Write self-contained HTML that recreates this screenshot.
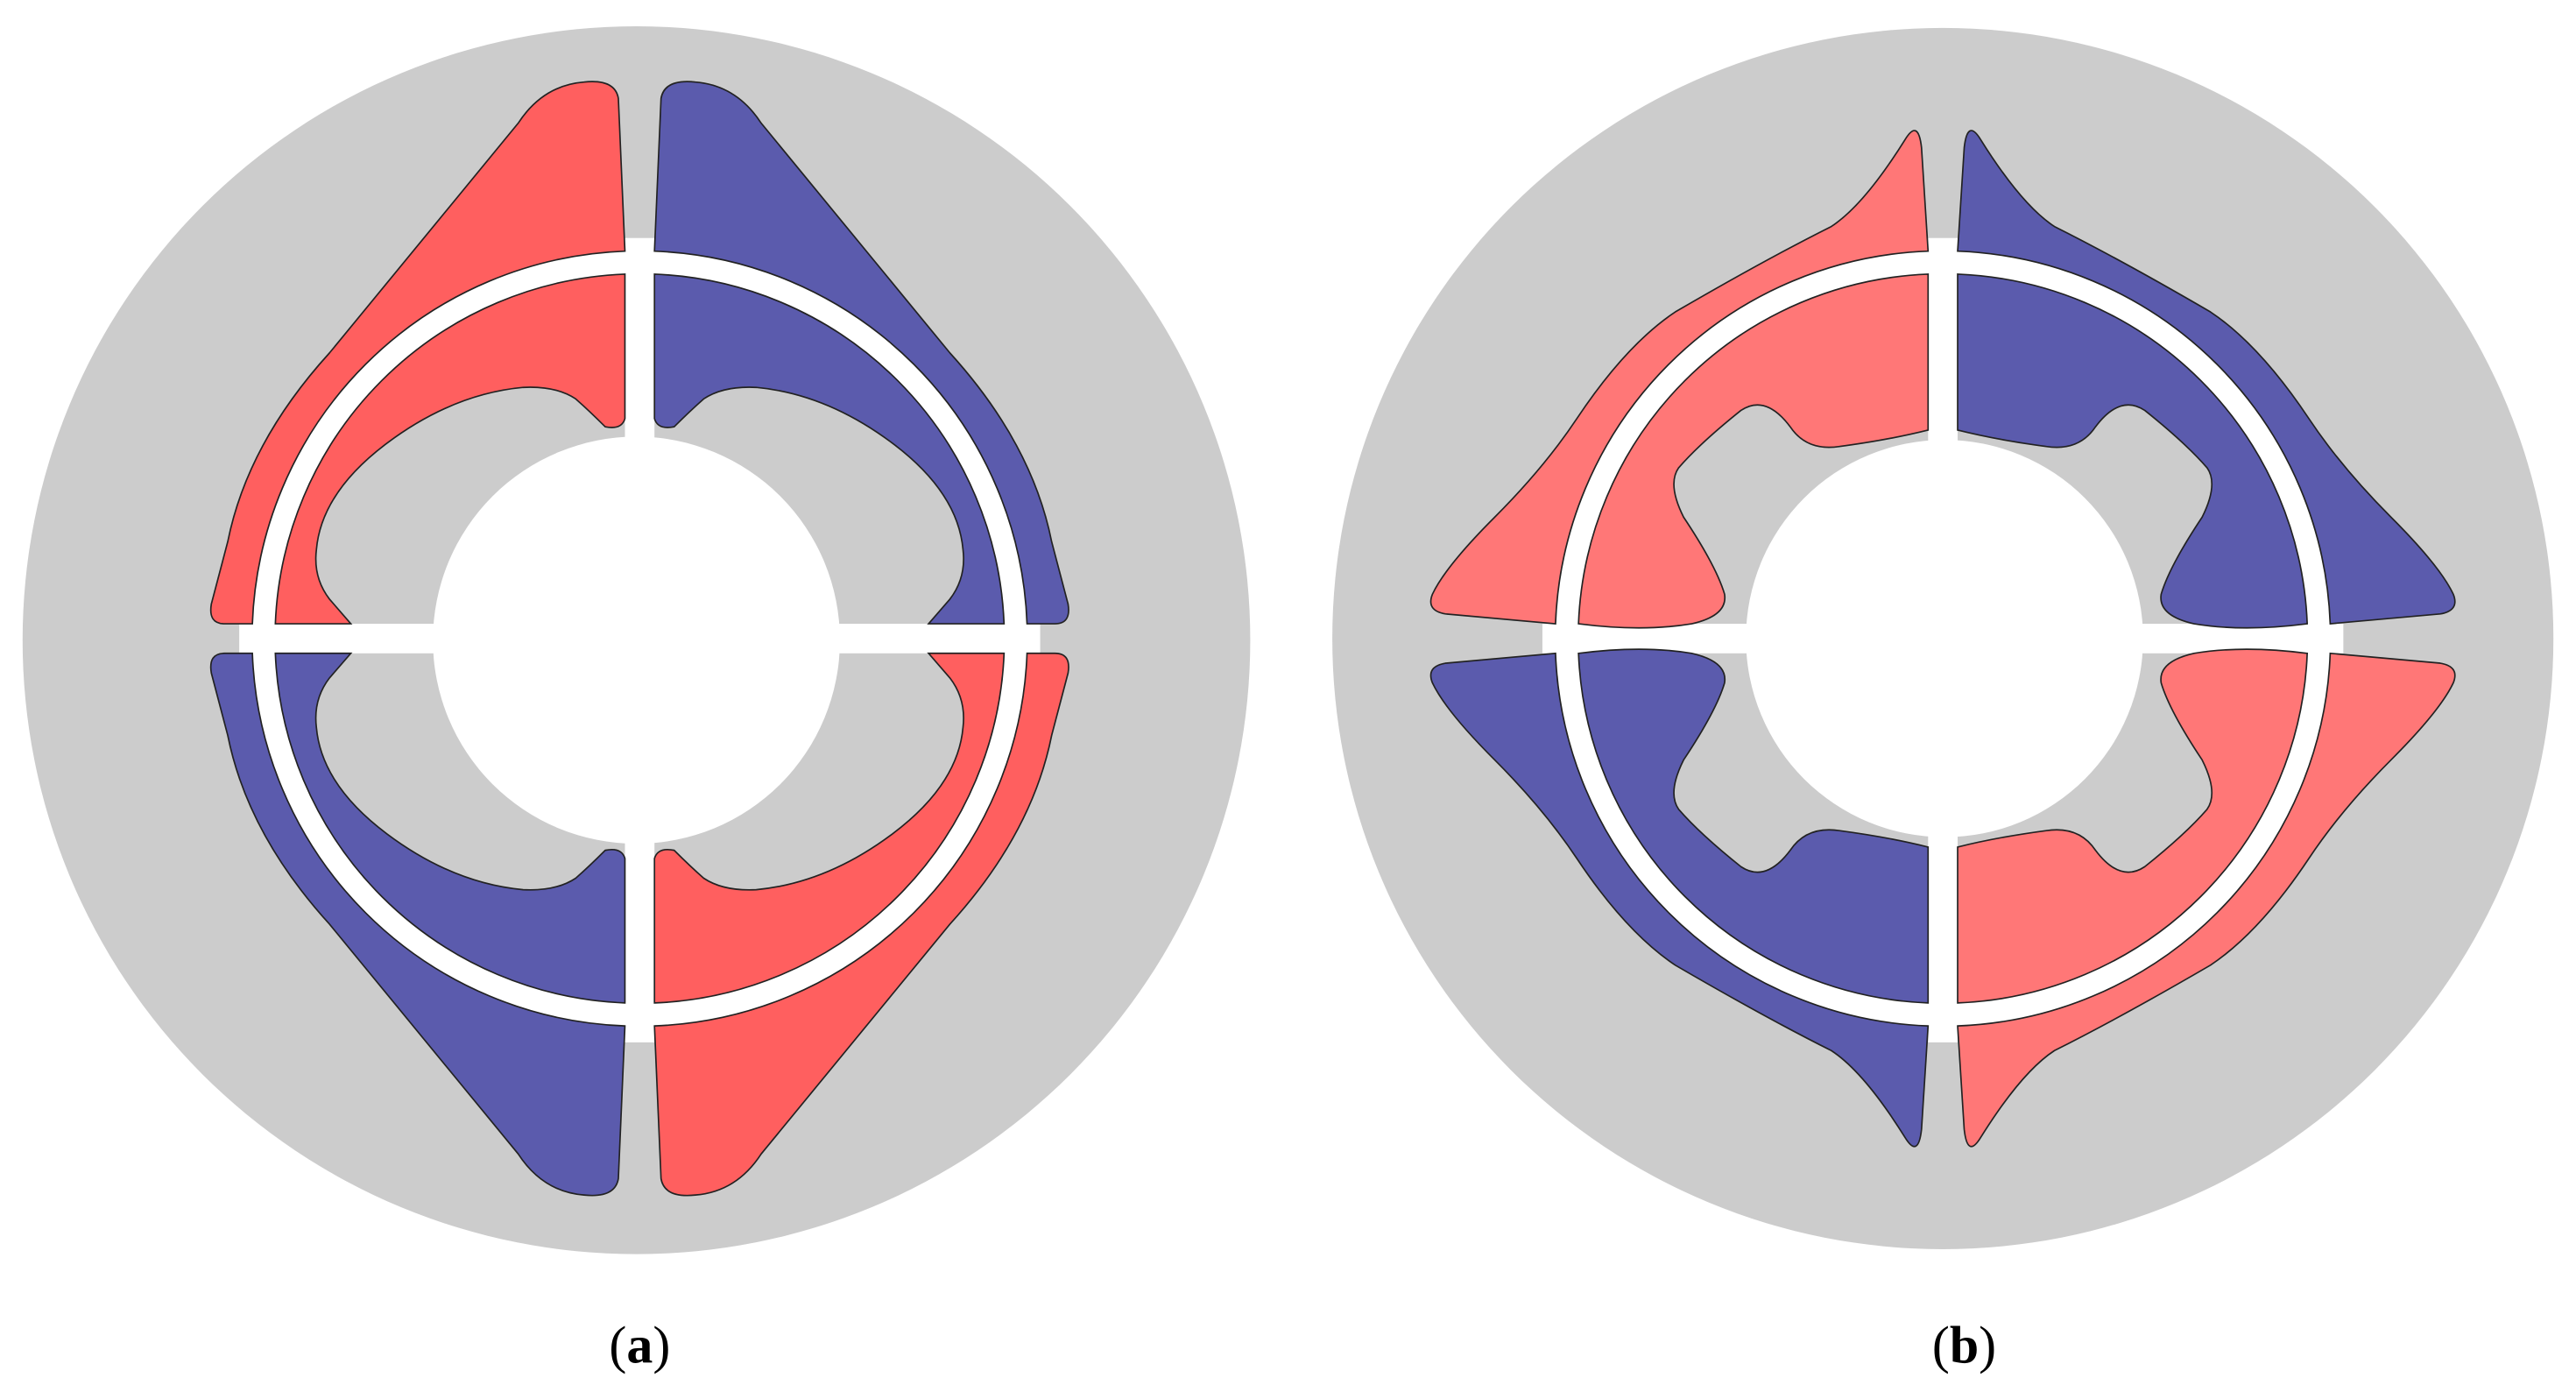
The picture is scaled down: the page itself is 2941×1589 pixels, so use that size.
<!DOCTYPE html>
<html><head><meta charset="utf-8"><style>
html,body{margin:0;padding:0;background:#fff;}
svg{display:block;}
</style></head><body>
<svg width="2941" height="1589" viewBox="0 0 1568 848" xmlns="http://www.w3.org/2000/svg">
<defs>
<g id="a_tl">
<path d="M380,153 L376,60 Q374,48 355,50 Q330,52 315,75 L200,215 Q150,270 138,330 L128,368 Q126,380 136,380 L153,380 A236,236 0 0 1 380,153Z"/>
<path d="M380,167 L380,255 Q378,262 368,260 Q358,250 350,243 Q338,235 318,236 Q275,240 235,270 Q195,300 192,335 Q190,352 200,365 L213,380 L167,380 A222,222 0 0 1 380,167Z"/>
</g>
<g id="b_tl">
<path d="M1174,153 L1170,90 Q1168,72 1160,85 Q1135,125 1115,138 Q1075,158 1020,190 Q990,210 960,255 Q940,285 910,315 Q880,345 872,362 Q868,372 880,374 L947,380 A236,236 0 0 1 1174,153Z"/>
<path d="M1174,167 L1174,262 Q1150,268 1120,272 Q1100,275 1090,260 Q1075,240 1060,250 Q1035,270 1022,285 Q1015,295 1025,315 Q1045,345 1050,362 Q1052,375 1030,380 Q1000,385 961,380 A222,222 0 0 1 1174,167Z"/>
</g>
</defs>
<!-- figure a -->
<circle cx="387" cy="390" r="374" fill="#cccccc"/>
<circle cx="389" cy="389" r="236" fill="#fff"/>
<circle cx="389" cy="389" r="222" fill="#cccccc"/>
<rect x="380" y="145" width="18" height="490" fill="#fff"/>
<rect x="145" y="380" width="488" height="18" fill="#fff"/>
<circle cx="387" cy="390" r="124" fill="#fff"/>
<g stroke="#222" stroke-width="0.9">
<use href="#a_tl" fill="#ff5f5f"/>
<use href="#a_tl" fill="#5b5bad" transform="matrix(-1,0,0,1,778,0)"/>
<use href="#a_tl" fill="#5b5bad" transform="matrix(1,0,0,-1,0,778)"/>
<use href="#a_tl" fill="#ff5f5f" transform="matrix(-1,0,0,-1,778,778)"/>
</g>
<!-- figure b -->
<circle cx="1183" cy="389" r="372" fill="#cccccc"/>
<circle cx="1183" cy="389" r="236" fill="#fff"/>
<circle cx="1183" cy="389" r="222" fill="#cccccc"/>
<rect x="1174" y="145" width="18" height="490" fill="#fff"/>
<rect x="939" y="380" width="488" height="18" fill="#fff"/>
<circle cx="1184" cy="389" r="121" fill="#fff"/>
<g stroke="#222" stroke-width="0.9">
<use href="#b_tl" fill="#ff7777"/>
<use href="#b_tl" fill="#5b5bad" transform="matrix(-1,0,0,1,2366,0)"/>
<use href="#b_tl" fill="#5b5bad" transform="matrix(1,0,0,-1,0,778)"/>
<use href="#b_tl" fill="#ff7777" transform="matrix(-1,0,0,-1,2366,778)"/>
</g>
<text x="389" y="830" text-anchor="middle" font-family="Liberation Serif, serif" font-size="32" fill="#000">(<tspan font-weight="bold">a</tspan>)</text>
<text x="1196" y="830" text-anchor="middle" font-family="Liberation Serif, serif" font-size="32" fill="#000">(<tspan font-weight="bold">b</tspan>)</text>
</svg>
</body></html>
